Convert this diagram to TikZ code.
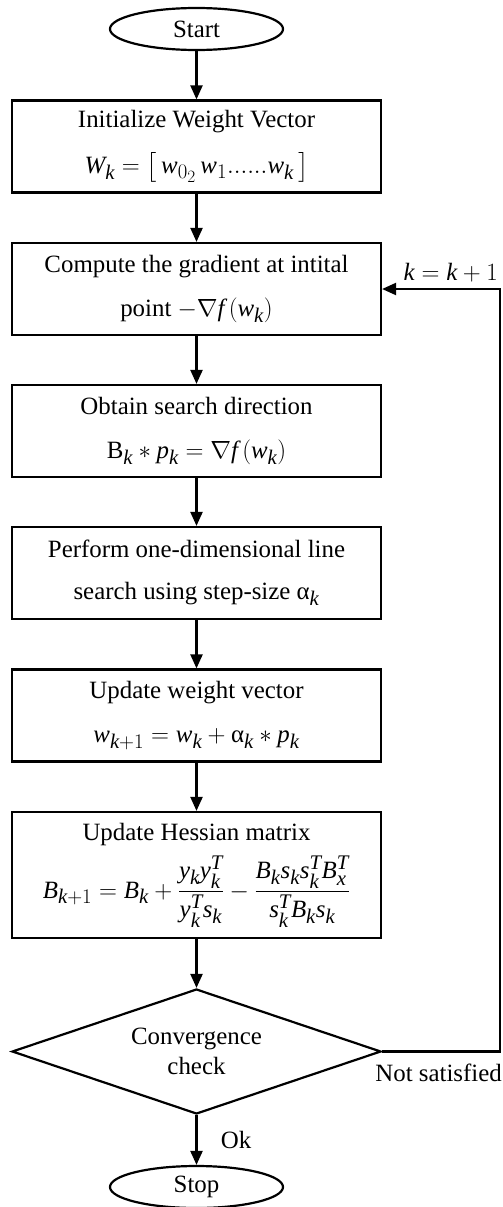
\documentclass[tikz,border=0pt]{standalone}
\usepackage{amsmath}
\usepackage{fontspec}
\setmainfont{Liberation Serif}
\DeclareSymbolFont{lettersx}{TU}{\rmdefault}{m}{it}
\newcommand{\mletter}[1]{\DeclareMathSymbol{#1}{\mathalpha}{lettersx}{`#1}}
\mletter{W}\mletter{w}\mletter{k}\mletter{f}\mletter{B}\mletter{p}\mletter{y}\mletter{s}\mletter{x}\mletter{T}
\usetikzlibrary{shapes.geometric,arrows.meta}
\tikzset{
  box/.style={draw, line width=2.2pt, minimum width=369pt, minimum height=92pt, align=center, font=\Huge, inner sep=2pt},
  term/.style={draw, ellipse, line width=2.2pt, minimum width=173pt, minimum height=42pt, font=\Huge, inner sep=0pt},
  decide/.style={draw, diamond, line width=2.2pt, minimum width=369pt, minimum height=125pt, align=center, font=\Huge, inner sep=0pt, aspect=2.9},
  arr/.style={line width=2.2pt, -{Triangle[length=14pt,width=12pt]}},
  lbl/.style={font=\Huge, inner sep=0pt}
}
\newcommand{\mline}[1]{$#1$}
\newcommand{\alp}{\textrm{α}}
\begin{document}
\begin{tikzpicture}[x=1pt,y=-1pt]
\useasboundingbox[fill=white] (0,0) rectangle (503,1207);
\node[term] (start) at (196.5,29) {Start};
\node[box] (b1) at (196.5,146.5) {Initialize Weight Vector\\[16pt] \mline{W_k = \left[\, w_{0_2}\, w_1 ......w_k \,\right]}};
\node[box] (b2) at (196.5,289) {Compute the gradient at intital\\[14pt] point \mline{-\nabla f\left(w_k\right)}};
\node[box] (b3) at (196.5,431) {Obtain search direction\\[14pt] \mline{\textrm{B}_k * p_k = \nabla f\left(w_k\right)}};
\node[box] (b4) at (196.5,573) {Perform one-dimensional line\\[12pt] search using step-size \mline{\alp_k}};
\node[box] (b5) at (196.5,715.5) {Update weight vector\\[14pt] \mline{w_{k+1} = w_k + \alp_k * p_k}};
\node[box, minimum height=126pt] (b6) at (196.5,875) {Update Hessian matrix\\[10pt] \mline{B_{k+1} = B_k + \dfrac{y_k y_k^T}{y_k^T s_k} - \dfrac{B_k s_k s_k^T B_x^T}{s_k^T B_k s_k}}};
\node[decide] (dia) at (196.5,1051.5) {\raisebox{-4pt}{\parbox{200pt}{\centering Convergence\\check}}};
\node[term] (stop) at (196.5,1187) {Stop};
\coordinate (rail) at (500,0);
\node[lbl, anchor=east] (kk) at (498,273) {\mline{k = k+1}};
\node[lbl, anchor=east] (ns) at (502,1073) {Not satisfied};
\node[lbl] (ok) at (236,1140) {Ok};
\draw[arr] (start) -- (b1);
\draw[arr] (b1) -- (b2);
\draw[arr] (b2) -- (b3);
\draw[arr] (b3) -- (b4);
\draw[arr] (b4) -- (b5);
\draw[arr] (b5) -- (b6);
\draw[arr] (b6) -- (dia);
\draw[arr] (dia) -- (stop);
\draw[arr] (dia.east) -- (dia.east -| rail) |- (b2.east);
\end{tikzpicture}
\end{document}
